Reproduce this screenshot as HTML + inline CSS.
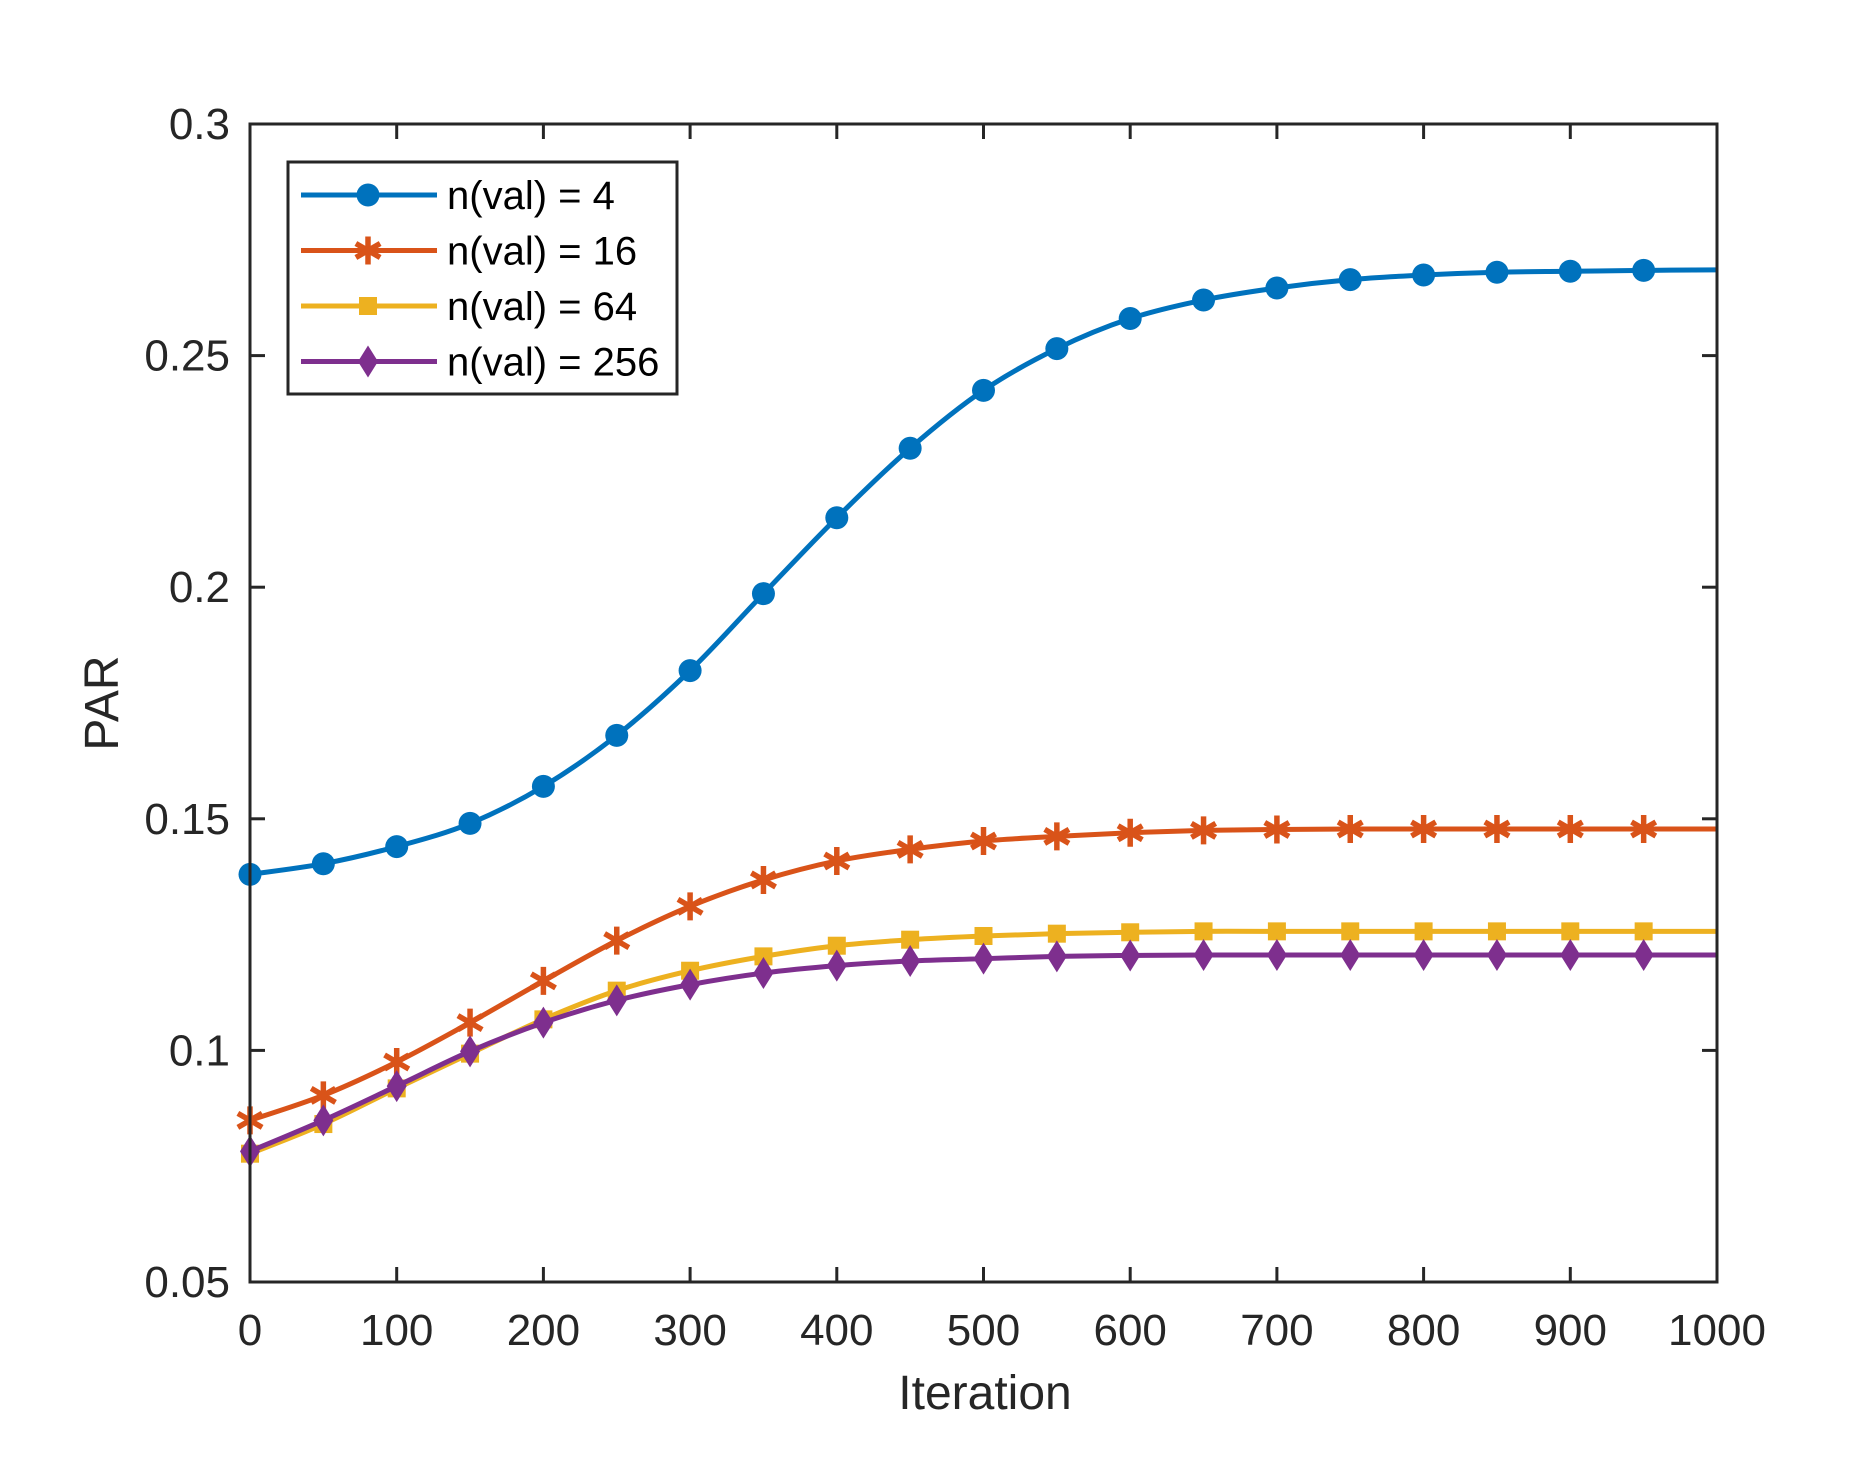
<!DOCTYPE html>
<html><head><meta charset="utf-8"><style>body{margin:0;background:#fff}svg{display:block}text{font-family:"Liberation Sans",Arial,sans-serif;fill:#262626}</style></head>
<body>
<svg id="s" width="1863" height="1483" xmlns="http://www.w3.org/2000/svg"></svg>
<script>
const s=document.getElementById('s');const NS='http://www.w3.org/2000/svg';
function el(t,a,txt){const e=document.createElementNS(NS,t);for(const k in a)e.setAttribute(k,a[k]);if(txt!==undefined)e.textContent=txt;s.appendChild(e);return e;}
const L=250,R=1717,T=124,B=1282;
const X=v=>L+v/1000*(R-L), Y=v=>B-(v-0.05)/0.25*(B-T);
el('rect',{x:L,y:T,width:R-L,height:B-T,fill:'#fff'});
const series=[
{c:'#0072BD',m:'o',d:[0.138,0.1403,0.144,0.149,0.157,0.168,0.182,0.1986,0.215,0.230,0.2425,0.2515,0.258,0.262,0.2646,0.2664,0.2674,0.268,0.2682,0.2684,0.2685]},
{c:'#D95319',m:'*',d:[0.0849,0.0903,0.0975,0.106,0.115,0.1237,0.1311,0.1368,0.1409,0.1434,0.1452,0.1462,0.147,0.1475,0.1477,0.1478,0.1478,0.1478,0.1478,0.1478,0.1478]},
{c:'#EDB120',m:'s',d:[0.0777,0.0841,0.0918,0.0993,0.1067,0.1129,0.1172,0.1203,0.1226,0.1239,0.1247,0.1252,0.1255,0.1257,0.1257,0.1257,0.1257,0.1257,0.1257,0.1257,0.1257]},
{c:'#7E2F8E',m:'d',d:[0.0782,0.0849,0.0923,0.0998,0.106,0.1108,0.1142,0.1167,0.1183,0.1193,0.1198,0.1203,0.1205,0.1206,0.1206,0.1206,0.1206,0.1206,0.1206,0.1206,0.1206]}];
function marker(m,x,y,c){
 if(m==='o')el('circle',{cx:x,cy:y,r:11.5,fill:c});
 else if(m==='s')el('rect',{x:x-9,y:y-9,width:18,height:18,fill:c});
 else if(m==='d')el('path',{d:`M${x} ${y-16}L${x+10} ${y}L${x} ${y+16}L${x-10} ${y}Z`,fill:c});
 else{let p='';for(const a of [0,60,120]){const r=a*Math.PI/180;p+=`M${x-14*Math.sin(r)} ${y-14*Math.cos(r)}L${x+14*Math.sin(r)} ${y+14*Math.cos(r)}`;}el('path',{d:p,stroke:c,'stroke-width':5.5,fill:'none'});}
}
for(const S of series){
 const P=S.d.map((v,i)=>[X(i*50),Y(v)]);
 let d=`M${P[0][0]} ${P[0][1]}`;
 for(let i=0;i<P.length-1;i++){const p0=P[Math.max(0,i-1)],p1=P[i],p2=P[i+1],p3=P[Math.min(P.length-1,i+2)];
  d+=`C${p1[0]+(p2[0]-p0[0])/6} ${p1[1]+(p2[1]-p0[1])/6} ${p2[0]-(p3[0]-p1[0])/6} ${p2[1]-(p3[1]-p1[1])/6} ${p2[0]} ${p2[1]}`;}
 el('path',{d,stroke:S.c,'stroke-width':5,fill:'none'});
 P.slice(0,20).forEach(p=>marker(S.m,p[0],p[1],S.c));
}
el('rect',{x:L,y:T,width:R-L,height:B-T,fill:'none',stroke:'#262626','stroke-width':3});
for(let i=0;i<=10;i++){const x=X(i*100);
 el('line',{x1:x,y1:B,x2:x,y2:B-15,stroke:'#262626','stroke-width':3});
 el('line',{x1:x,y1:T,x2:x,y2:T+15,stroke:'#262626','stroke-width':3});
 el('text',{x:x,y:1345,'font-size':44,'text-anchor':'middle'},String(i*100));}
for(let i=0;i<=5;i++){const v=0.05+i*0.05,y=Y(v);
 el('line',{x1:L,y1:y,x2:L+15,y2:y,stroke:'#262626','stroke-width':3});
 el('line',{x1:R,y1:y,x2:R-15,y2:y,stroke:'#262626','stroke-width':3});
 el('text',{x:230,y:y+15,'font-size':44,'text-anchor':'end'},['0.05','0.1','0.15','0.2','0.25','0.3'][i]);}
el('text',{x:985,y:1409,'font-size':48,'text-anchor':'middle'},'Iteration');
el('text',{x:0,y:0,'font-size':48,'text-anchor':'middle',transform:'translate(118,703) rotate(-90)'},'PAR');
el('rect',{x:288,y:162,width:389,height:232,fill:'#fff',stroke:'#262626','stroke-width':3});
const labs=['n(val) = 4','n(val) = 16','n(val) = 64','n(val) = 256'];
series.forEach((S,i)=>{const y=195+i*55.5;
 el('line',{x1:301,y1:y,x2:437,y2:y,stroke:S.c,'stroke-width':5});
 marker(S.m,368,y,S.c);
 const t=el('text',{x:447,y:y+14,'font-size':40},labs[i]);t.style.fill='#000';});
</script>
</body></html>
